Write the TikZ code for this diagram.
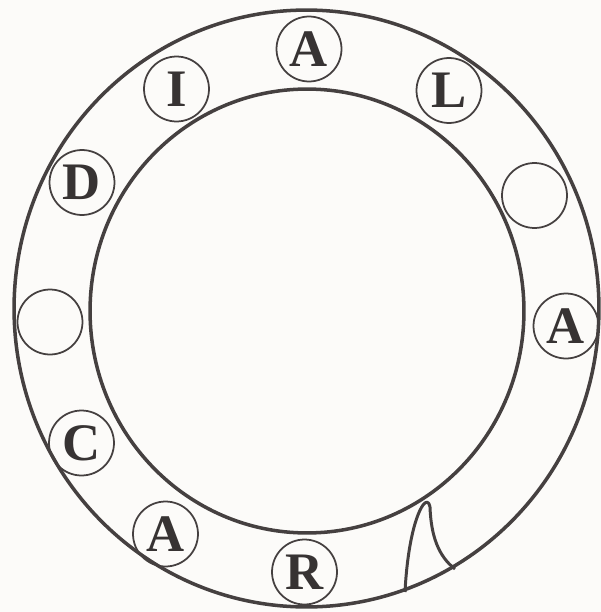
\documentclass[tikz,border=0pt]{standalone}
\usepackage{fontspec}
\setmainfont{Liberation Serif}
\usepackage{xcolor}
\usepackage{tikz}
\definecolor{inkgray}{HTML}{454040}
\definecolor{paper}{HTML}{FCFBF9}

\begin{document}
\begin{tikzpicture}[x=0.02cm,y=-0.02cm,
  ring/.style={draw=inkgray,line width=2pt},
  slot/.style={circle,draw=inkgray,line width=1pt,minimum size=1.3cm,inner sep=0pt,
    text=inkgray!80!black,font=\fontsize{30}{30}\selectfont\bfseries},
  fin/.style={draw=inkgray,line width=1.7pt,line join=round}]
\fill[paper] (0,0) rectangle (601,612);
\useasboundingbox (0,0) rectangle (601,612);
% the ring
\draw[ring] (306.5,308.5) ellipse [x radius=5.85cm,y radius=5.97cm];
\draw[ring] (307,311) ellipse [x radius=4.34cm,y radius=4.44cm];
% letter slots round the ring
\node[slot] (atop) at (309,49) {A};
\node[slot] (l) at (449,90.5) {L};
\node[slot] (blankr) at (534.5,195.5) {};
\node[slot] (aright) at (566,326) {A};
\node[slot] (r) at (304.5,572) {R};
\node[slot] (aleft) at (165.5,534) {A};
\node[slot] (c) at (81.5,443) {C};
\node[slot] (blankl) at (50,322) {};
\node[slot] (d) at (82,182.5) {D};
\node[slot] (i) at (176.5,89) {I};
% the fin
\draw[fin] (405,592) .. controls (407,552) and (414,518) .. (423,505)
  .. controls (426,501) and (429,501) .. (430,507)
  .. controls (431,535) and (438,556) .. (455,569);
\end{tikzpicture}
\end{document}
